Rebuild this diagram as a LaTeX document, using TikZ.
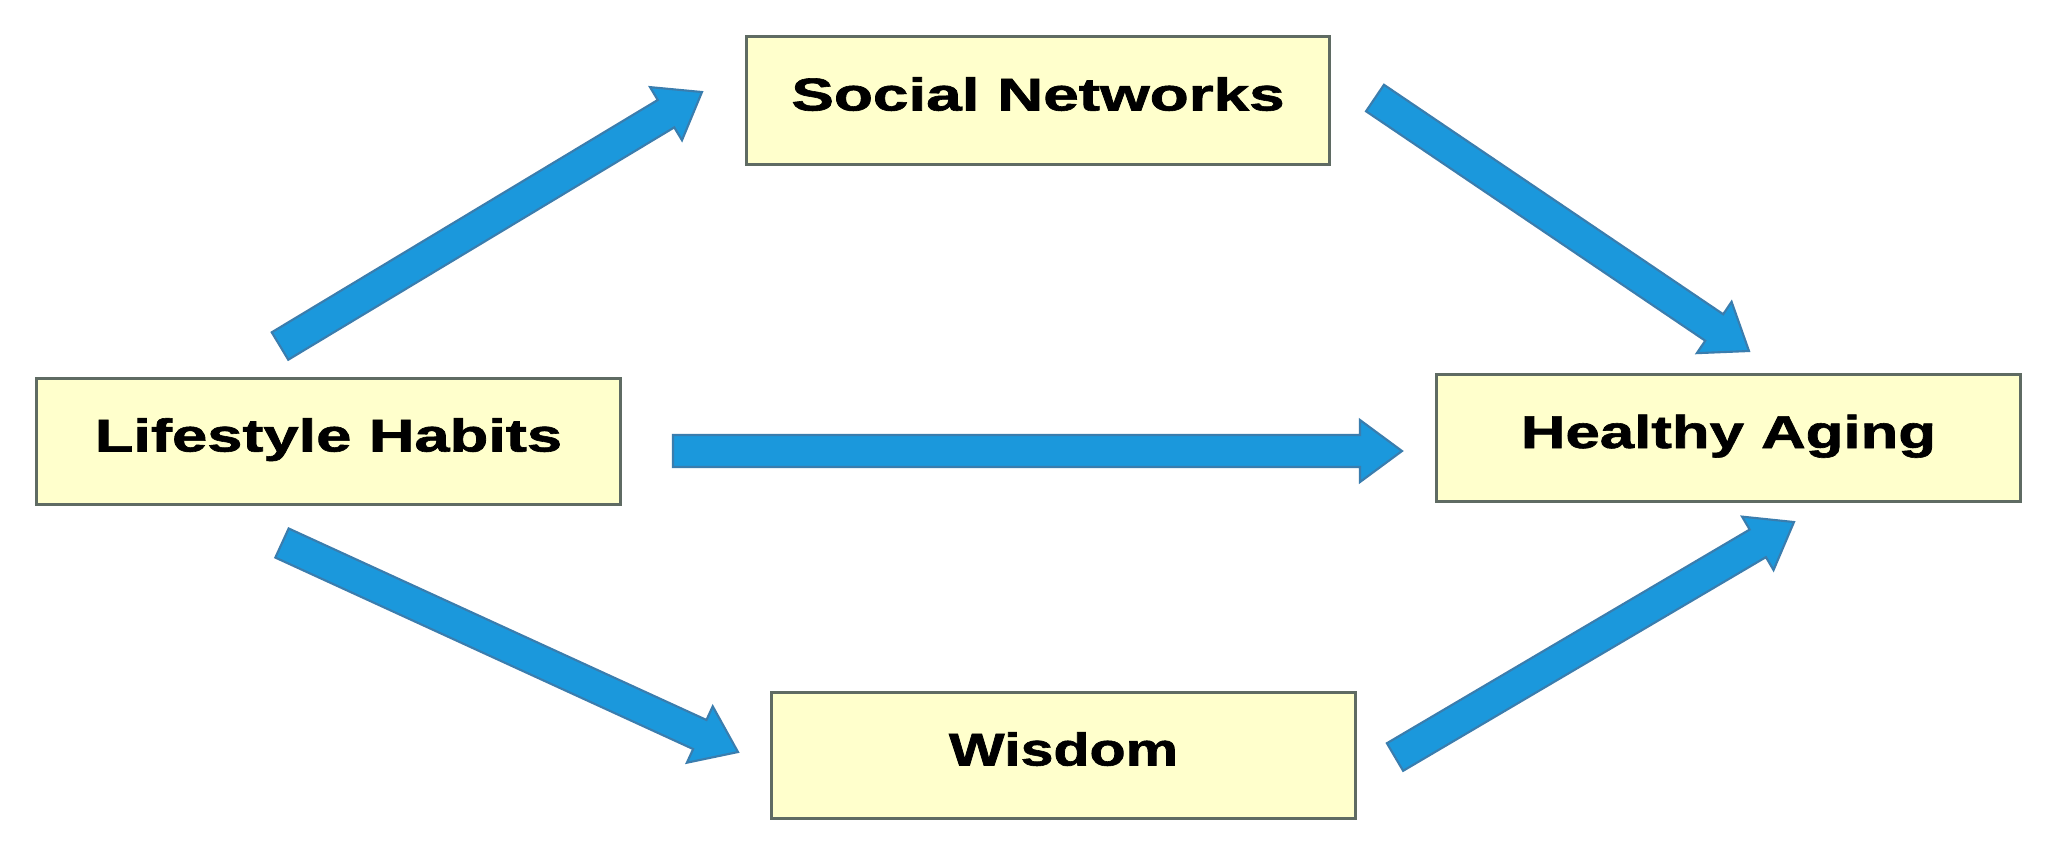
\documentclass[tikz,border=0pt]{standalone}
\usepackage{fontspec}
\setmainfont{Liberation Sans}[BoldFeatures={FakeBold=1.3}]
\usetikzlibrary{calc}
\definecolor{boxfill}{HTML}{FFFFCC}
\definecolor{boxline}{HTML}{5F6B63}
\definecolor{arrowfill}{HTML}{1B98DC}
\definecolor{arrowline}{HTML}{3A7DAE}
\tikzset{
  box/.style={draw=boxline, fill=boxfill, line width=0.85pt, rectangle,
    inner sep=0pt, minimum height=1.25cm, minimum width=5.84cm,
    text height=0.3cm, text depth=0.1cm,
    font=\fontsize{13.1}{15}\selectfont\bfseries},
  blockarrow/.style={fill=arrowfill, draw=arrowline, line width=0.6pt, line join=miter}
}
\newcommand{\blkarrow}[2]{%
  \coordinate (hb) at ($(#2)!0.42cm!(#1)$);
  \draw[blockarrow] ($(#1)!0.16cm!-90:(#2)$) -- ($(hb)!0.16cm!90:(#1)$) --
    ($(hb)!0.31cm!90:(#1)$) -- (#2) -- ($(hb)!0.31cm!-90:(#1)$) --
    ($(hb)!0.16cm!-90:(#1)$) -- ($(#1)!0.16cm!90:(#2)$) -- cycle;
}
\begin{document}
\begin{tikzpicture}[x=0.01cm,y=-0.01cm]
\useasboundingbox[fill=white] (0,0) rectangle (2063,856);

\node[box, minimum width=5.82cm, minimum height=1.27cm] (soc) at (1038,100.5)
  {\resizebox{4.93cm}{\height}{Social Networks}};
\node[box] (life) at (328.5,441.5)
  {\resizebox{4.67cm}{\height}{Lifestyle Habits}};
\node[box, minimum height=1.26cm] (hea) at (1728.5,438)
  {\resizebox{4.15cm}{\height}{Healthy Aging}};
\node[box] (wis) at (1063.5,755.5)
  {\resizebox{2.29cm}{\height}{Wisdom}};

% connector end points
\coordinate (ls1) at (280,346);
\coordinate (ls2) at (702,92);
\coordinate (sh1) at (1375,98);
\coordinate (sh2) at (1749,351);
\coordinate (lh1) at (673,451);
\coordinate (lh2) at (1402,451);
\coordinate (lw1) at (282,543);
\coordinate (lw2) at (738,752);
\coordinate (wh1) at (1395,757);
\coordinate (wh2) at (1794,522);

\blkarrow{ls1}{ls2}
\blkarrow{sh1}{sh2}
\blkarrow{lh1}{lh2}
\blkarrow{lw1}{lw2}
\blkarrow{wh1}{wh2}
\end{tikzpicture}
\end{document}
